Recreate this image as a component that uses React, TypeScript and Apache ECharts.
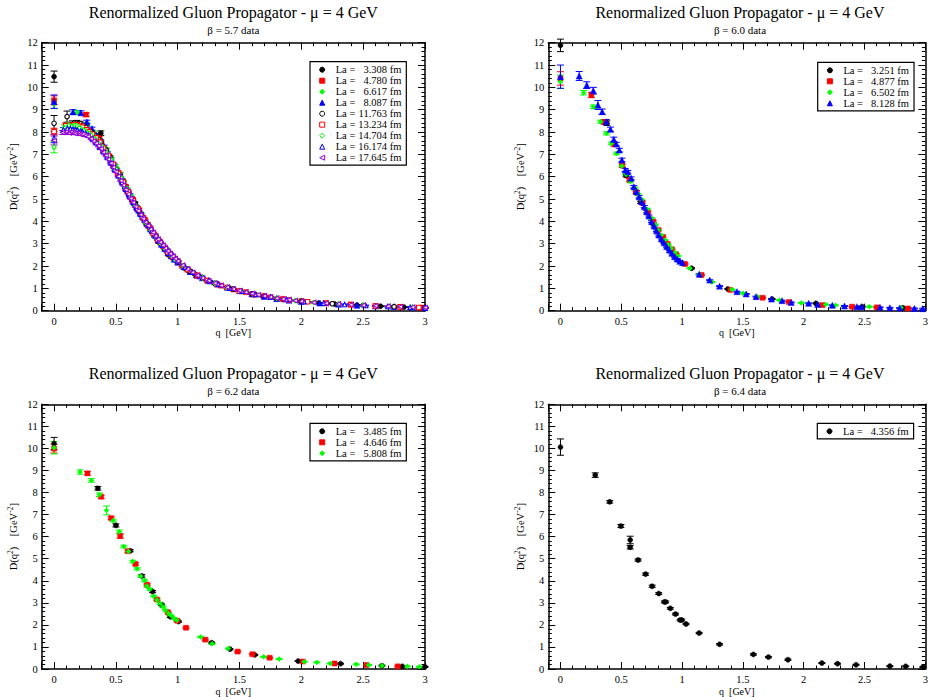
import { useEffect, useRef } from "react";
import * as echarts from "echarts";

type Pt = [number, number, number]; // [q (GeV), D(q^2) (GeV^-2), error]

// ---------- beta = 5.7 ----------
const s57a: Pt[] = [[0,10.48,0.25],[0.378,7.95,0.1],[0.534,6.1,0.08],[0.654,4.8,0.06],[0.755,3.85,0.05],[0.845,3.08,0.05],[0.925,2.5,0.04],[1.068,1.86,0.04],[1.133,1.66,0.03],[1.195,1.5,0.03],[1.31,1.22,0.03],[1.416,1.02,0.03],[1.51,0.87,0.03],[1.6,0.75,0.02],[1.69,0.64,0.02],[1.85,0.5,0.02],[2.0,0.41,0.02],[2.14,0.34,0.02],[2.27,0.3,0.02],[2.45,0.25,0.02],[2.64,0.2,0.02],[2.83,0.16,0.02],[2.98,0.13,0.02]];
const s57b: Pt[] = [[0,9.42,0.2],[0.259,8.78,0.08],[0.366,7.72,0.07],[0.449,6.88,0.06],[0.518,6.18,0.06],[0.579,5.56,0.05],[0.634,5.0,0.05],[0.685,4.52,0.05],[0.733,4.08,0.04],[0.777,3.7,0.04],[0.819,3.36,0.04],[0.859,3.06,0.04],[0.897,2.79,0.03],[0.934,2.55,0.03],[0.969,2.34,0.03],[1.036,2.0,0.03],[1.099,1.74,0.03],[1.158,1.55,0.03],[1.24,1.34,0.03],[1.35,1.12,0.02],[1.45,0.95,0.02],[1.55,0.83,0.02],[1.7,0.66,0.02],[1.85,0.53,0.02],[2.0,0.43,0.02],[2.2,0.34,0.02],[2.4,0.27,0.02],[2.6,0.21,0.02],[2.8,0.17,0.02],[2.97,0.13,0.02]];
const s57c: Pt[] = [[0,9.25,0.2],[0.187,8.88,0.08],[0.265,8.35,0.07],[0.324,7.98,0.06],[0.374,7.62,0.06],[0.418,7.26,0.05],[0.458,6.86,0.05],[0.495,6.5,0.05],[0.529,6.15,0.05],[0.561,5.8,0.04],[0.592,5.46,0.04],[0.62,5.15,0.04],[0.648,4.86,0.04],[0.674,4.6,0.04],[0.7,4.36,0.04],[0.724,4.12,0.03],[0.748,3.91,0.03],[0.771,3.72,0.03],[0.794,3.53,0.03],[0.815,3.36,0.03],[0.836,3.21,0.03],[0.857,3.06,0.03],[0.877,2.92,0.03],[0.897,2.79,0.03],[0.935,2.55,0.03],[0.97,2.35,0.03],[1.0,2.2,0.03],[1.06,1.95,0.02],[1.12,1.71,0.02],[1.2,1.48,0.02],[1.3,1.23,0.02],[1.4,1.04,0.02],[1.5,0.88,0.02],[1.6,0.75,0.02],[1.75,0.6,0.02],[1.9,0.48,0.02],[2.05,0.39,0.02],[2.2,0.33,0.02],[2.4,0.27,0.02],[2.6,0.21,0.02],[2.8,0.17,0.02],[2.95,0.14,0.02]];
const s57d: Pt[] = [[0,9.36,0.3],[0.153,8.9,0.1],[0.217,8.86,0.09],[0.265,8.45,0.08],[0.306,8.15,0.07],[0.342,7.86,0.07],[0.375,7.6,0.06],[0.405,7.35,0.06],[0.433,7.06,0.05],[0.459,6.8,0.05],[0.484,6.55,0.05],[0.507,6.3,0.05],[0.53,6.06,0.05],[0.552,5.85,0.04],[0.573,5.61,0.04],[0.593,5.4,0.04],[0.612,5.2,0.04],[0.631,5.01,0.04],[0.649,4.84,0.04],[0.667,4.66,0.04],[0.684,4.5,0.04],[0.701,4.35,0.03],[0.717,4.2,0.03],[0.749,3.92,0.03],[0.78,3.66,0.03],[0.81,3.42,0.03],[0.84,3.18,0.03],[0.868,2.97,0.03],[0.895,2.78,0.03],[0.922,2.6,0.03],[0.948,2.45,0.02],[0.973,2.3,0.02],[1.0,2.17,0.02],[1.05,1.97,0.02],[1.1,1.76,0.02],[1.15,1.6,0.02],[1.2,1.47,0.02],[1.26,1.33,0.02],[1.32,1.2,0.02],[1.4,1.05,0.02],[1.5,0.89,0.02],[1.6,0.75,0.02],[1.7,0.64,0.02],[1.8,0.54,0.02],[1.9,0.47,0.02],[2.0,0.41,0.02],[2.15,0.34,0.02],[2.3,0.29,0.02],[2.45,0.24,0.02],[2.6,0.21,0.02],[2.75,0.18,0.02],[2.9,0.15,0.02],[3.0,0.13,0.02]];
const s57e: Pt[] = [[0,8.39,0.35],[0.105,8.69,0.25],[0.149,8.35,0.15],[0.182,8.4,0.12],[0.21,8.38,0.1],[0.235,8.3,0.09],[0.258,8.2,0.08],[0.297,8.02,0.07],[0.315,7.92,0.06],[0.333,7.82,0.06],[0.363,7.66,0.05],[0.379,7.55,0.05],[0.42,7.2,0.05],[0.45,6.9,0.04],[0.5,6.35,0.04],[0.55,5.85,0.04],[0.6,5.32,0.04],[0.65,4.82,0.03],[0.7,4.35,0.03],[0.75,3.9,0.03],[0.8,3.48,0.03],[0.85,3.1,0.03],[0.9,2.76,0.03],[0.95,2.46,0.02],[1.0,2.2,0.02],[1.1,1.76,0.02],[1.2,1.46,0.02],[1.3,1.22,0.02],[1.45,0.97,0.02],[1.6,0.76,0.02],[1.8,0.55,0.02],[2.0,0.42,0.02],[2.25,0.31,0.02],[2.5,0.24,0.02],[2.75,0.18,0.02],[3.0,0.13,0.02]];
const s57f: Pt[] = [[0,8.02,0.15],[0.094,8.28,0.12],[0.132,8.3,0.1],[0.162,8.32,0.09],[0.187,8.33,0.08],[0.209,8.28,0.08],[0.229,8.22,0.07],[0.264,8.1,0.06],[0.28,8.02,0.06],[0.31,7.9,0.05],[0.34,7.74,0.05],[0.37,7.55,0.05],[0.4,7.3,0.05],[0.44,6.95,0.04],[0.48,6.56,0.04],[0.52,6.15,0.04],[0.56,5.75,0.04],[0.6,5.32,0.03],[0.64,4.93,0.03],[0.68,4.55,0.03],[0.72,4.16,0.03],[0.76,3.82,0.03],[0.8,3.48,0.03],[0.84,3.18,0.03],[0.88,2.9,0.02],[0.92,2.63,0.02],[0.96,2.4,0.02],[1.0,2.2,0.02],[1.08,1.84,0.02],[1.16,1.58,0.02],[1.24,1.35,0.02],[1.32,1.18,0.02],[1.4,1.04,0.02],[1.5,0.88,0.02],[1.62,0.72,0.02],[1.75,0.6,0.02],[1.9,0.48,0.02],[2.05,0.4,0.02],[2.2,0.33,0.02],[2.4,0.27,0.02],[2.6,0.21,0.02],[2.8,0.17,0.02],[2.95,0.14,0.02]];
const s57g: Pt[] = [[0,7.32,0.25],[0.084,8.2,0.12],[0.119,8.3,0.1],[0.146,8.26,0.09],[0.168,8.3,0.08],[0.188,8.28,0.08],[0.206,8.2,0.07],[0.238,8.1,0.06],[0.252,8.05,0.06],[0.28,7.95,0.05],[0.3,7.86,0.05],[0.33,7.7,0.05],[0.36,7.5,0.05],[0.39,7.34,0.04],[0.42,7.1,0.04],[0.46,6.76,0.04],[0.5,6.36,0.04],[0.54,5.95,0.04],[0.58,5.5,0.03],[0.62,5.1,0.03],[0.66,4.7,0.03],[0.7,4.3,0.03],[0.74,3.95,0.03],[0.78,3.62,0.03],[0.82,3.3,0.03],[0.86,3.02,0.02],[0.9,2.75,0.02],[0.94,2.5,0.02],[0.98,2.28,0.02],[1.04,2.02,0.02],[1.12,1.71,0.02],[1.2,1.47,0.02],[1.3,1.23,0.02],[1.4,1.04,0.02],[1.52,0.86,0.02],[1.65,0.7,0.02],[1.8,0.56,0.02],[1.95,0.45,0.02],[2.1,0.37,0.02],[2.3,0.3,0.02],[2.5,0.24,0.02],[2.7,0.19,0.02],[2.9,0.15,0.02]];
const s57h: Pt[] = [[0,7.72,0.2],[0.077,8.1,0.1],[0.108,8.16,0.09],[0.133,8.15,0.08],[0.153,8.12,0.07],[0.171,8.1,0.07],[0.188,8.08,0.06],[0.216,8.04,0.06],[0.23,8.0,0.05],[0.255,7.95,0.05],[0.28,7.86,0.05],[0.31,7.7,0.05],[0.34,7.52,0.04],[0.37,7.32,0.04],[0.4,7.12,0.04],[0.43,6.88,0.04],[0.46,6.62,0.04],[0.49,6.33,0.04],[0.52,6.04,0.03],[0.55,5.74,0.03],[0.58,5.44,0.03],[0.61,5.14,0.03],[0.64,4.86,0.03],[0.67,4.58,0.03],[0.7,4.32,0.03],[0.73,4.06,0.03],[0.76,3.82,0.02],[0.79,3.58,0.02],[0.82,3.35,0.02],[0.85,3.13,0.02],[0.88,2.93,0.02],[0.91,2.74,0.02],[0.94,2.56,0.02],[0.97,2.39,0.02],[1.0,2.23,0.02],[1.06,1.95,0.02],[1.12,1.72,0.02],[1.18,1.53,0.02],[1.25,1.35,0.02],[1.33,1.18,0.02],[1.42,1.01,0.02],[1.52,0.87,0.02],[1.63,0.73,0.02],[1.75,0.61,0.02],[1.88,0.5,0.02],[2.02,0.41,0.02],[2.18,0.34,0.02],[2.35,0.28,0.02],[2.52,0.23,0.02],[2.7,0.19,0.02],[2.88,0.16,0.02],[3.0,0.13,0.02]];
const s57i: Pt[] = [[0,7.62,0.2],[0.07,7.98,0.09],[0.099,8.0,0.08],[0.121,7.96,0.07],[0.14,8.0,0.07],[0.157,7.96,0.06],[0.172,7.94,0.06],[0.198,7.95,0.05],[0.21,7.9,0.05],[0.233,7.9,0.05],[0.255,7.85,0.05],[0.275,7.8,0.04],[0.3,7.7,0.04],[0.32,7.6,0.04],[0.34,7.5,0.04],[0.36,7.38,0.04],[0.38,7.25,0.04],[0.4,7.1,0.04],[0.42,6.95,0.03],[0.44,6.78,0.03],[0.46,6.6,0.03],[0.48,6.42,0.03],[0.5,6.22,0.03],[0.52,6.02,0.03],[0.54,5.82,0.03],[0.56,5.62,0.03],[0.58,5.42,0.03],[0.6,5.22,0.03],[0.62,5.02,0.03],[0.64,4.84,0.03],[0.66,4.65,0.03],[0.68,4.47,0.03],[0.7,4.3,0.02],[0.72,4.12,0.02],[0.74,3.96,0.02],[0.76,3.8,0.02],[0.78,3.65,0.02],[0.8,3.5,0.02],[0.82,3.35,0.02],[0.84,3.2,0.02],[0.86,3.06,0.02],[0.88,2.93,0.02],[0.9,2.8,0.02],[0.92,2.67,0.02],[0.94,2.55,0.02],[0.96,2.44,0.02],[0.98,2.33,0.02],[1.0,2.23,0.02],[1.04,2.04,0.02],[1.08,1.87,0.02],[1.12,1.72,0.02],[1.16,1.58,0.02],[1.2,1.46,0.02],[1.25,1.34,0.02],[1.3,1.23,0.02],[1.35,1.13,0.02],[1.4,1.05,0.02],[1.45,0.97,0.02],[1.5,0.9,0.02],[1.55,0.83,0.02],[1.6,0.77,0.02],[1.65,0.71,0.02],[1.7,0.66,0.02],[1.75,0.61,0.02],[1.8,0.56,0.02],[1.85,0.52,0.02],[1.9,0.49,0.02],[1.95,0.45,0.02],[2.0,0.42,0.02],[2.1,0.37,0.02],[2.2,0.33,0.02],[2.3,0.3,0.02],[2.4,0.27,0.02],[2.5,0.24,0.02],[2.6,0.22,0.02],[2.7,0.2,0.02],[2.8,0.18,0.02],[2.9,0.16,0.02],[3.0,0.14,0.02]];

// ---------- beta = 6.0 ----------
const s60a: Pt[] = [[0,11.88,0.28],[0.381,8.4,0.1],[0.539,6.05,0.06],[0.66,4.85,0.05],[0.762,3.9,0.04],[0.852,3.1,0.04],[0.933,2.55,0.03],[1.078,1.9,0.03],[1.376,0.97,0.02],[1.74,0.52,0.02],[2.1,0.33,0.02],[2.48,0.18,0.02],[2.816,0.13,0.02]];
const s60b: Pt[] = [[0,10.4,0.3],[0.254,9.66,0.12],[0.359,8.45,0.1],[0.44,7.45,0.08],[0.508,6.5,0.07],[0.568,5.85,0.06],[0.622,5.3,0.05],[0.672,4.85,0.05],[0.719,4.4,0.05],[0.762,4.0,0.04],[0.804,3.62,0.04],[0.843,3.3,0.04],[0.88,3.0,0.03],[0.916,2.75,0.03],[0.951,2.52,0.03],[1.024,2.09,0.03],[1.159,1.6,0.03],[1.397,0.93,0.02],[1.662,0.58,0.02],[1.878,0.39,0.02],[2.154,0.25,0.02],[2.397,0.18,0.02],[2.6,0.15,0.02],[2.857,0.1,0.02]];
const s60c: Pt[] = [[0,10.25,0.3],[0.19,9.76,0.1],[0.27,9.13,0.08],[0.33,8.46,0.07],[0.378,7.94,0.07],[0.419,7.49,0.06],[0.46,7.04,0.06],[0.505,6.48,0.05],[0.54,6.1,0.05],[0.573,5.78,0.05],[0.614,5.48,0.05],[0.64,5.2,0.04],[0.668,4.96,0.04],[0.714,4.54,0.04],[0.749,4.13,0.04],[0.78,3.85,0.03],[0.803,3.61,0.03],[0.83,3.38,0.03],[0.857,3.16,0.03],[0.885,2.96,0.03],[0.911,2.79,0.03],[0.94,2.6,0.03],[0.965,2.45,0.03],[1.065,1.9,0.02],[1.14,1.63,0.02],[1.245,1.28,0.02],[1.41,0.95,0.02],[1.5,0.78,0.02],[1.62,0.63,0.02],[1.8,0.47,0.02],[1.98,0.35,0.02],[2.18,0.28,0.02],[2.26,0.24,0.02],[2.54,0.18,0.02],[2.8,0.13,0.02]];
const s60d: Pt[] = [[0,10.48,0.52],[0.154,10.51,0.2],[0.216,10.1,0.15],[0.27,9.85,0.15],[0.308,9.21,0.2],[0.343,8.91,0.12],[0.376,8.46,0.1],[0.411,8.12,0.1],[0.438,7.67,0.1],[0.459,7.46,0.08],[0.484,7.19,0.08],[0.505,6.75,0.08],[0.532,6.3,0.07],[0.554,6.22,0.06],[0.581,5.93,0.06],[0.603,5.55,0.06],[0.624,5.33,0.05],[0.646,5.1,0.05],[0.668,4.88,0.05],[0.689,4.66,0.05],[0.708,4.43,0.05],[0.727,4.24,0.04],[0.749,3.99,0.04],[0.77,3.79,0.04],[0.789,3.58,0.04],[0.808,3.39,0.04],[0.83,3.21,0.04],[0.851,3.04,0.03],[0.873,2.87,0.03],[0.895,2.72,0.03],[0.916,2.57,0.03],[0.938,2.42,0.03],[0.959,2.31,0.03],[0.981,2.21,0.03],[1.003,2.15,0.03],[1.141,1.63,0.02],[1.227,1.37,0.02],[1.308,1.1,0.02],[1.451,0.85,0.02],[1.527,0.75,0.02],[1.608,0.63,0.02],[1.735,0.52,0.02],[1.822,0.45,0.02],[1.897,0.37,0.02],[2.04,0.33,0.02],[2.114,0.28,0.02],[2.235,0.24,0.02],[2.335,0.21,0.02],[2.438,0.18,0.02],[2.478,0.18,0.02],[2.627,0.15,0.02],[2.708,0.13,0.02],[2.789,0.12,0.02],[2.91,0.1,0.02],[2.978,0.09,0.02]];

// ---------- beta = 6.2 ----------
const s62a: Pt[] = [[0,10.22,0.28],[0.354,8.19,0.08],[0.5,6.51,0.07],[0.616,5.36,0.05],[0.71,4.22,0.06],[0.797,3.51,0.05],[0.87,2.91,0.04],[0.94,2.37,0.04],[1.007,2.15,0.03],[1.275,1.19,0.03],[1.423,0.9,0.03],[1.623,0.64,0.02],[1.974,0.36,0.02],[2.317,0.24,0.02],[2.652,0.15,0.02],[2.817,0.12,0.02],[3.0,0.1,0.02]];
const s62b: Pt[] = [[0,9.99,0.2],[0.27,8.87,0.08],[0.381,7.81,0.07],[0.462,6.84,0.06],[0.535,6.03,0.1],[0.597,5.34,0.05],[0.659,4.76,0.05],[0.753,3.82,0.04],[0.832,3.15,0.04],[0.921,2.57,0.03],[0.996,2.19,0.03],[1.067,1.87,0.03],[1.223,1.33,0.03],[1.485,0.79,0.02],[1.604,0.67,0.02],[1.744,0.51,0.02],[2.012,0.34,0.02],[2.268,0.25,0.02],[2.528,0.18,0.02],[2.78,0.12,0.02]];
const s62c: Pt[] = [[0,10.03,0.28],[0.21,8.93,0.1],[0.302,8.55,0.08],[0.367,7.9,0.08],[0.424,7.19,0.2],[0.478,6.73,0.06],[0.527,6.22,0.08],[0.564,5.55,0.06],[0.602,5.33,0.05],[0.637,4.87,0.06],[0.672,4.54,0.05],[0.702,4.21,0.05],[0.732,4.01,0.06],[0.751,3.76,0.05],[0.775,3.61,0.04],[0.807,3.3,0.04],[0.832,3.13,0.04],[0.859,2.97,0.04],[0.88,2.82,0.04],[0.902,2.66,0.04],[0.926,2.52,0.03],[0.945,2.42,0.03],[0.969,2.3,0.03],[0.994,2.21,0.03],[1.186,1.45,0.03],[1.278,1.15,0.03],[1.41,0.93,0.02],[1.696,0.55,0.02],[1.82,0.45,0.02],[2.023,0.33,0.02],[2.125,0.3,0.02],[2.233,0.25,0.02],[2.444,0.21,0.02],[2.544,0.18,0.02],[2.652,0.15,0.02],[2.857,0.12,0.02],[2.954,0.1,0.02]];

// ---------- beta = 6.4 ----------
const s64a: Pt[] = [[0,10.06,0.37],[0.286,8.79,0.1],[0.405,7.58,0.06],[0.497,6.48,0.07],[0.573,5.85,0.17],[0.573,5.52,0.08],[0.638,4.94,0.05],[0.7,4.3,0.05],[0.754,3.75,0.05],[0.808,3.42,0.04],[0.854,3.04,0.04],[0.865,3.04,0.04],[0.903,2.75,0.04],[0.946,2.49,0.04],[0.984,2.22,0.04],[0.997,2.22,0.04],[1.032,2.04,0.03],[1.14,1.63,0.03],[1.308,1.12,0.03],[1.586,0.66,0.03],[1.71,0.54,0.03],[1.87,0.42,0.03],[2.149,0.27,0.02],[2.278,0.24,0.02],[2.43,0.19,0.02],[2.708,0.13,0.02],[2.838,0.12,0.02],[2.98,0.09,0.02]];

const betaLabels = ["5.7", "6.0", "6.2", "6.4"];
const volumes57 = ["3.308", "4.780", "6.617", "8.087", "11.763", "13.234", "14.704", "16.174", "17.645"];
const volumes60 = ["3.251", "4.877", "6.502", "8.128"];
const volumes62 = ["3.485", "4.646", "5.808"];
const volumes64 = ["4.356"];
const titleText = "Renormalized Gluon Propagator - \u03bc = 4 GeV";

const panelData: Pt[][][] = [
  [s57a, s57b, s57c, s57d, s57e, s57f, s57g, s57h, s57i],
  [s60a, s60b, s60c, s60d],
  [s62a, s62b, s62c],
  [s64a],
];
const panelVolumes = [volumes57, volumes60, volumes62, volumes64];

// marker styles (xmgrace-like)
const markerStyles = [
  { color: "#000000", symbol: "circle", hollow: false },
  { color: "#ff0000", symbol: "rect", hollow: false },
  { color: "#00ff00", symbol: "diamond", hollow: false },
  { color: "#0000ff", symbol: "triangle", hollow: false },
  { color: "#000000", symbol: "circle", hollow: true },
  { color: "#ff0000", symbol: "rect", hollow: true },
  { color: "#00ff00", symbol: "diamond", hollow: true },
  { color: "#0000ff", symbol: "triangle", hollow: true },
  { color: "#9400d3", symbol: "path://M0,5L10,0L10,10Z", hollow: true },
];

const FONT = "'Liberation Serif', 'Times New Roman', serif";
const GRID_W = 383.3;
const GRID_H = 268;
const gridPos = [
  [41.7, 42.7],
  [548.3, 42.7],
  [41.7, 404.3],
  [548.3, 404.3],
];
const legendPos = [
  [310, 61.7],
  [817.7, 62.3],
  [310, 423.3],
  [817.3, 423.3],
];

function buildOption() {
  const grid: any[] = [];
  const xAxis: any[] = [];
  const yAxis: any[] = [];
  const series: any[] = [];
  const legend: any[] = [];
  const title: any[] = [];

  const tickCommon = {
    axisLine: { show: true, onZero: false, lineStyle: { color: "#000", width: 1.5 } },
    axisTick: { show: true, inside: true, length: 7, lineStyle: { color: "#000", width: 1 } },
    minorTick: { show: true, splitNumber: 5, length: 3.5, lineStyle: { color: "#000", width: 1 } },
    splitLine: { show: false },
    minorSplitLine: { show: false },
  };
  const xCommon = { type: "value", min: -0.1, max: 3, splitNumber: 6, ...tickCommon };
  const yCommon = { type: "value", min: 0, max: 12, interval: 1, ...tickCommon };

  panelData.forEach((sets, p) => {
    const [gl, gt] = gridPos[p];
    grid.push({ left: gl, top: gt, width: GRID_W, height: GRID_H, containLabel: false });
    const cx = gl + GRID_W / 2;
    title.push({
      text: titleText,
      subtext: "\u03b2 = " + betaLabels[p] + " data",
      left: cx,
      top: gt - 38.5,
      textAlign: "center",
      padding: 0,
      itemGap: 4,
      textStyle: { fontFamily: FONT, fontSize: 16, fontWeight: "normal", color: "#000" },
      subtextStyle: { fontFamily: FONT, fontSize: 11, color: "#000" },
    });
    const xi = xAxis.length;
    xAxis.push({
      ...xCommon,
      gridIndex: p,
      position: "bottom",
      axisLabel: { show: true, showMinLabel: false, fontFamily: FONT, fontSize: 10.5, color: "#000", margin: 5 },
      name: "q\u00a0\u00a0[GeV]",
      nameLocation: "middle",
      nameGap: 17,
      nameTextStyle: { fontFamily: FONT, fontSize: 10, color: "#000" },
    });
    xAxis.push({ ...xCommon, gridIndex: p, position: "top", axisLabel: { show: false } });
    const yi = yAxis.length;
    yAxis.push({
      ...yCommon,
      gridIndex: p,
      position: "left",
      axisLabel: { show: true, fontFamily: FONT, fontSize: 10.5, color: "#000", margin: 4 },
      name: "{n|D(q}{s|2}{n|)\u00a0\u00a0\u00a0\u00a0[GeV}{s|-2}{n|]}",
      nameLocation: "middle",
      nameGap: 21,
      nameTextStyle: {
        color: "#000",
        rich: {
          n: { fontFamily: FONT, fontSize: 10.5, color: "#000", lineHeight: 14 },
          s: { fontFamily: FONT, fontSize: 7.5, color: "#000", verticalAlign: "top", lineHeight: 8 },
        },
      },
    });
    yAxis.push({ ...yCommon, gridIndex: p, position: "right", axisLabel: { show: false } });

    const names: string[] = [];
    sets.forEach((data, k) => {
      const st = markerStyles[k];
      const name = "La = " + panelVolumes[p][k] + " fm";
      names.push(name);
      series.push({
        type: "custom",
        name: "err " + name,
        xAxisIndex: xi,
        yAxisIndex: yi,
        data,
        encode: { x: 0, y: 1 },
        silent: true,
        renderItem: (_params: any, api: any) => {
          const x = api.value(0);
          const y = api.value(1);
          const e = api.value(2);
          const top = api.coord([x, y + e]);
          const bot = api.coord([x, y - e]);
          const px = top[0];
          const w = 3.5;
          const ls = { stroke: st.color, lineWidth: 1 };
          return {
            type: "group",
            children: [
              { type: "line", shape: { x1: px, y1: top[1], x2: px, y2: bot[1] }, style: ls },
              { type: "line", shape: { x1: px - w, y1: top[1], x2: px + w, y2: top[1] }, style: ls },
              { type: "line", shape: { x1: px - w, y1: bot[1], x2: px + w, y2: bot[1] }, style: ls },
            ],
          };
        },
      });
      series.push({
        type: "scatter",
        name,
        xAxisIndex: xi,
        yAxisIndex: yi,
        data: data.map((d) => [d[0], d[1]]),
        symbol: st.symbol,
        symbolSize: st.hollow ? 4.5 : st.symbol === "triangle" ? 6 : 5,
        silent: true,
        itemStyle: {
          color: st.hollow ? "#ffffff" : st.color,
          borderColor: st.color,
          borderWidth: st.hollow ? 1.1 : 0.5,
          opacity: 1,
        },
      });
    });

    legend.push({
      data: names,
      orient: "vertical",
      left: legendPos[p][0],
      top: legendPos[p][1],
      padding: [2.5, 5, 2, 9.2],
      itemGap: 0,
      itemWidth: 5,
      itemHeight: 5,
      borderColor: "#000",
      borderWidth: 1.2,
      backgroundColor: "#fff",
      selectedMode: false,
      itemStyle: { borderWidth: 1 },
      formatter: (nm: string) => "{a|La =}{b|" + nm.replace("La = ", "") + "}",
      textStyle: {
        fontFamily: FONT,
        fontSize: 10.5,
        color: "#000",
        rich: {
          a: { fontFamily: FONT, fontSize: 10.5, color: "#000", lineHeight: 11.2, padding: [0, 0, 0, 6] },
          b: { fontFamily: FONT, fontSize: 10.5, color: "#000", lineHeight: 11.2, width: 46, align: "right" },
        },
      },
    });
  });

  return {
    animation: false,
    backgroundColor: "#ffffff",
    title,
    grid,
    xAxis,
    yAxis,
    legend,
    series,
  };
}

export default function App() {
  const ref = useRef<HTMLDivElement>(null);
  useEffect(() => {
    if (!ref.current) return;
    const chart = echarts.init(ref.current, undefined, { renderer: "svg" });
    chart.setOption(buildOption() as any);
    return () => chart.dispose();
  }, []);
  return (
    <div
      ref={ref}
      style={{ position: "fixed", left: 0, top: 0, width: 931, height: 697, background: "#fff" }}
    />
  );
}
